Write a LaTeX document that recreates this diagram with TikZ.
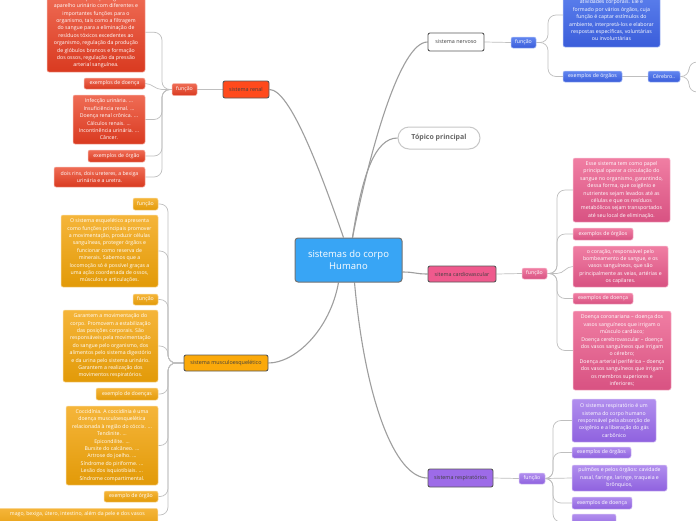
\documentclass[tikz,border=0pt]{standalone}
\usepackage{fontspec}
\setmainfont{Open Sans}
\usetikzlibrary{backgrounds}
\definecolor{rmain}{HTML}{FF4A1C}
\definecolor{rtop}{HTML}{EF6C55}
\definecolor{rbot}{HTML}{D93A20}
\definecolor{omain}{HTML}{FBA90A}
\definecolor{otop}{HTML}{F5B53A}
\definecolor{obot}{HTML}{E29A08}
\definecolor{pmain}{HTML}{EF5A8D}
\definecolor{ptop}{HTML}{F07EA3}
\definecolor{pbot}{HTML}{D85282}
\definecolor{umain}{HTML}{9D6BE8}
\definecolor{utop}{HTML}{B18EEE}
\definecolor{ubot}{HTML}{8F62DF}
\definecolor{btop}{HTML}{6286F0}
\definecolor{bbot}{HTML}{3A5DDA}
\definecolor{rootc}{HTML}{38A5F5}
\newcommand\lffont{\fontsize{5.2}{7.4}\selectfont}
\newcommand\mnfont{\fontsize{5.4}{7}\selectfont}
\tikzset{
  leaf/.style={rounded corners=2pt, inner sep=0pt, align=center, text=white, font=\lffont, line width=0.5pt},
  rl/.style={leaf, top color=rtop, bottom color=rbot, draw=rtop!50!white},
  ol/.style={leaf, top color=otop, bottom color=obot, draw=otop!50!white},
  pl/.style={leaf, top color=ptop, bottom color=pbot, draw=ptop!50!white},
  ul/.style={leaf, top color=utop, bottom color=ubot, draw=utop!50!white},
  bl/.style={leaf, top color=btop, bottom color=bbot, draw=btop!50!white},
  mainbox/.style={draw=black!65, line width=0.9pt, rounded corners=2pt, inner sep=0pt, font=\mnfont, text=black!75},
  sz/.style 2 args={minimum width=#1pt, minimum height=#2pt},
  conn/.style={draw=black!25, line width=0.7pt},
  rootconn/.style={draw=black!38, line width=1.1pt},
  rc/.style={conn, rounded corners=8pt}
}
\begin{document}
\begin{tikzpicture}[x=1pt,y=-1pt]
\useasboundingbox (0,0) rectangle (696,520);

% root and free topic
\node[draw=black!55, line width=1pt, fill=rootc, rounded corners=3pt, sz={107}{44}, text=white, align=center, font=\fontsize{9.5}{12}\selectfont] (root) at (348.5,260) {sistemas do corpo\\Humano};
\node[draw=black!22, line width=1pt, fill=white, rounded corners=11pt, sz={82}{22}, text=black!60, font=\bfseries\fontsize{7}{8}\selectfont] (topico) at (439,138) {Tópico principal};

% ---- sistema nervoso (blue)
\node[mainbox, fill=white, sz={56}{18}] (nerv) at (456,42) {sistema nervoso};
\node[bl, sz={25}{11}] (bfun) at (523.5,42.5) {função};
\node[bl, sz={97}{64}] (btext) at (611.5,15) {\mbox{}\\\mbox{}\\atividades corporais. Ele é\\formado por vários órgãos, cuja\\função é captar estímulos do\\ambiente, interpretá-los e elaborar\\respostas específicas, voluntárias\\ou involuntárias};
\node[bl, sz={59}{11}] (borg) at (592.5,76.5) {exemplos de órgãos};
\node[bl, sz={32}{11}] (bcer) at (664,76.5) {Cérebro..};
\coordinate (bfork) at (548,42.5);
\coordinate (cfork) at (689,76.5);
\coordinate (cup) at (705,62);
\coordinate (cdn) at (705,92);

% ---- sistema cardiovascular (pink)
\node[mainbox, fill=pmain, sz={68}{16}] (card) at (462,274) {sitema cardiovascular};
\node[pl, sz={25}{11}] (pfun) at (534.5,273.5) {função};
\node[pl, sz={97}{64}] (ptext1) at (621.5,190) {Esse sistema tem como papel\\principal operar a circulação do\\sangue no organismo, garantindo,\\dessa forma, que oxigênio e\\nutrientes sejam levados até as\\células e que os resíduos\\metabólicos sejam transportados\\até seu local de eliminação.};
\node[pl, sz={60}{12}] (porg) at (603,234) {exemplos de órgãos};
\node[pl, sz={95}{41}] (ptext2) at (620.5,266.5) {o coração, responsável pelo\\bombeamento de sangue, e os\\vasos sanguíneos, que são\\principalmente as veias, artérias e\\os capilares.};
\node[pl, sz={60}{11}] (pdoe) at (603,298.5) {exemplos de doença};
\node[pl, sz={98}{79}] (ptext3) at (622,350.5) {Doença coronariana – doença dos\\vasos sanguíneos que irrigam o\\músculo cardíaco;\\Doença cerebrovascular – doença\\dos vasos sanguíneos que irrigam\\o cérebro;\\Doença arterial periférica – doença\\dos vasos sanguíneos que irrigam\\os membros superiores e\\inferiores;};
\coordinate (pfork) at (557,273.5);

% ---- sistema respiratorio (purple)
\node[mainbox, fill=umain, sz={65}{18}] (resp) at (460.5,478) {sistema respiratórios};
\node[ul, sz={26}{11}] (ufun) at (532,478.5) {função};
\node[ul, sz={84}{43}] (utext1) at (614,420.5) {O sistema respiratório é um\\sistema do corpo humano\\responsável pela absorção de\\oxigênio e a liberação do gás\\carbônico};
\node[ul, sz={59}{11}] (uorg) at (601.5,452.5) {exemplos de órgãos};
\node[ul, sz={95}{26}] (utext2) at (619.5,478) {pulmões e pelos órgãos: cavidade\\nasal, faringe, laringe, traqueia e\\brônquios,};
\node[ul, sz={60}{12}] (udoe) at (602,503) {exemplos de doença};
\node[ul, sz={44}{16}] (ubox) at (594,522) {};
\coordinate (ufork) at (553,478.5);

% ---- sistema renal (red)
\node[mainbox, fill=rmain, sz={46}{17}] (renal) at (246,89.5) {sistema renal};
\node[rl, sz={25}{12}] (rfun) at (184.5,89.5) {função};
\node[rl, sz={98}{79.5}] (rtext1) at (96,32.25) {O rim é o principal órgão do\\aparelho urinário com diferentes e\\importantes funções para o\\organismo, tais como a filtragem\\do sangue para a eliminação de\\resíduos tóxicos excedentes ao\\organismo, regulação da produção\\de glóbulos brancos e formação\\dos ossos, regulação da pressão\\arterial sanguínea.};
\node[rl, sz={61}{11}] (rdoe) at (114.5,83.5) {exemplos de doença};
\node[rl, sz={72}{49}] (rtext2) at (109,119.5) {Infecção urinária. ...\\Insuficiência renal. ...\\Doença renal crônica. ...\\Cálculos renais. ...\\Incontinência urinária. ...\\Câncer.};
\node[rl, sz={57}{12}] (rorg) at (116.5,156) {exemplos de órgão};
\node[rl, sz={91}{20}] (rtext3) at (99.5,177) {dois rins, dois ureteres, a bexiga\\urinária e a uretra.};
\coordinate (rfork) at (162,89.5);

% ---- sistema musculoesqueletico (orange)
\node[mainbox, fill=omain, sz={84}{16}] (musc) at (226,363) {sistema musculoesquelético};
\node[ol, sz={25}{12}] (ofun1) at (145.5,204) {função};
\node[ol, sz={97}{72}] (otext1) at (109.5,251) {O sistema esquelético apresenta\\como funções principais promover\\a movimentação, produzir células\\sanguíneas, proteger órgãos e\\funcionar como reserva de\\minerais. Sabemos que a\\locomoção só é possível graças a\\uma ação coordenada de ossos,\\músculos e articulações.};
\node[ol, sz={25}{11}] (ofun2) at (145.5,299.5) {função};
\node[ol, sz={95}{72}] (otext2) at (110.5,346) {Garantem a movimentação do\\corpo. Promovem a estabilização\\das posições corporais. São\\responsáveis pela movimentação\\do sangue pelo organismo, dos\\alimentos pelo sistema digestório\\e da urina pelo sistema urinário.\\Garantem a realização dos\\movimentos respiratórios.};
\node[ol, sz={62}{12}] (odoe) at (127,394) {exemplo de  doenças};
\node[ol, sz={92}{79}] (otext3) at (112,445.5) {Coccidínia. A coccidínia é uma\\doença musculoesquelética\\relacionada à região do cóccix. ...\\Tendinite. ...\\Epicondilite. ...\\Bursite do calcâneo. ...\\Artrose do joelho. ...\\Síndrome do piriforme. ...\\Lesão dos isquiotibiais. ...\\Síndrome compartimental.};
\node[ol, sz={54}{11}] (oorg) at (131,496.5) {exemplo de órgão};
\node[ol, anchor=north east, inner xsep=13pt, inner ysep=3pt, align=right] (otext4) at (158,508) {mago, bexiga, útero, intestino, além da pele e dos vasos\\\mbox{}\\\mbox{}};
\coordinate (ofork) at (168,363);
\coordinate (o4in) at ([yshift=-7pt]otext4.north east);

\begin{scope}[on background layer]
\fill[white] (0,0) rectangle (696,520);
% root connectors
\draw[rootconn] ([xshift=-5pt]root.north) .. controls (320,170) and (290,89.5) .. (renal.east);
\draw[rootconn] ([xshift=4pt]root.north) .. controls (370,150) and (400,42) .. (nerv.west);
\draw[rootconn] ([xshift=4pt]root.north) .. controls (362,175) and (375,138) .. (topico.west);
\draw[rootconn] ([yshift=-12pt]root.east) .. controls (415,272) and (415,274) .. (card.west);
\draw[rootconn] ([xshift=-10pt]root.south) .. controls (330,330) and (295,363) .. (musc.east);
\draw[rootconn] ([xshift=6pt]root.south) .. controls (365,400) and (395,478) .. (resp.west);
% blue
\draw[conn] (nerv.east) -- (bfun.west);
\draw[rc] (bfun.east) -| (bfork |- btext.west) -- (btext.west);
\draw[rc] (bfun.east) -| (bfork |- borg.west) -- (borg.west);
\draw[conn] (borg.east) -- (bcer.west);
\draw[rc] (bcer.east) -| (cfork |- cup) -- (cup);
\draw[rc] (bcer.east) -| (cfork |- cdn) -- (cdn);
% pink
\draw[conn] (card.east) -- (pfun.west);
\draw[rc] (pfun.east) -| (pfork |- ptext1.west) -- (ptext1.west);
\draw[rc] (pfun.east) -| (pfork |- porg.west) -- (porg.west);
\draw[conn] (pfun.east) -- (pfork) .. controls +(7,0) and +(-7,0) .. (ptext2.west);
\draw[rc] (pfun.east) -| (pfork |- pdoe.west) -- (pdoe.west);
\draw[rc] (pfun.east) -| (pfork |- ptext3.west) -- (ptext3.west);
% purple
\draw[conn] (resp.east) -- (ufun.west);
\draw[rc] (ufun.east) -| (ufork |- utext1.west) -- (utext1.west);
\draw[rc] (ufun.east) -| (ufork |- uorg.west) -- (uorg.west);
\draw[conn] (ufun.east) -- (utext2.west);
\draw[rc] (ufun.east) -| (ufork |- udoe.west) -- (udoe.west);
\draw[rc] (ufun.east) -| (ufork |- ubox.west) -- (ubox.west);
% red
\draw[conn] (renal.west) -- (rfun.east);
\draw[rc] (rfun.west) -| (rfork |- rtext1.east) -- (rtext1.east);
\draw[conn] (rfun.west) -- (rfork) .. controls +(-7,0) and +(7,0) .. (rdoe.east);
\draw[rc] (rfun.west) -| (rfork |- rtext2.east) -- (rtext2.east);
\draw[rc] (rfun.west) -| (rfork |- rorg.east) -- (rorg.east);
\draw[rc] (rfun.west) -| (rfork |- rtext3.east) -- (rtext3.east);
% orange
\draw[rc] (musc.west) -| (ofork |- ofun1.east) -- (ofun1.east);
\draw[rc] (musc.west) -| (ofork |- otext1.east) -- (otext1.east);
\draw[rc] (musc.west) -| (ofork |- ofun2.east) -- (ofun2.east);
\draw[rc] (musc.west) -| (ofork |- otext2.east) -- (otext2.east);
\draw[rc] (musc.west) -| (ofork |- odoe.east) -- (odoe.east);
\draw[rc] (musc.west) -| (ofork |- otext3.east) -- (otext3.east);
\draw[rc] (musc.west) -| (ofork |- oorg.east) -- (oorg.east);
\draw[rc] (musc.west) -| (ofork |- o4in) -- (o4in);
\end{scope}
\end{tikzpicture}
\end{document}
